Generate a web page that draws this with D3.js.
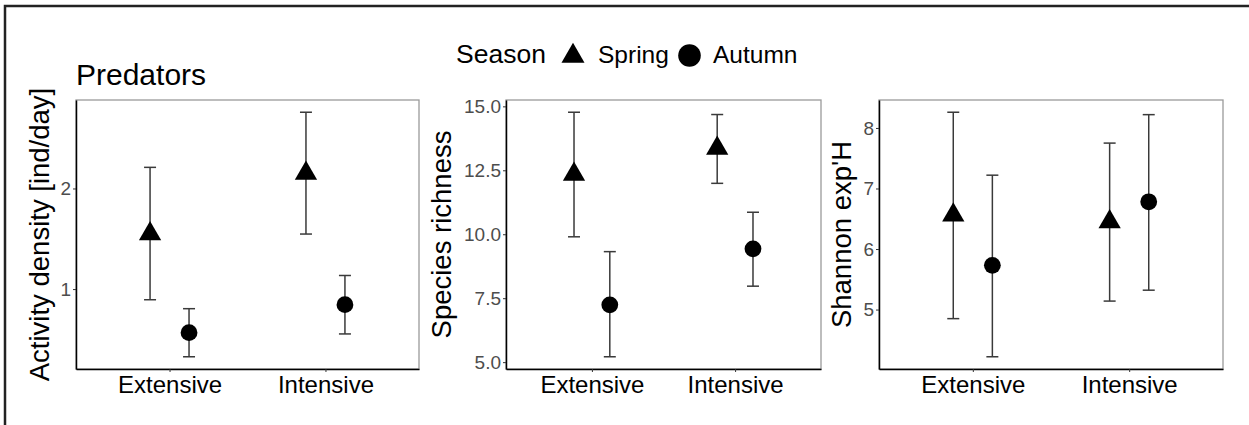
<!DOCTYPE html>
<html>
<head>
<meta charset="utf-8">
<script src="https://cdn.jsdelivr.net/npm/d3@7"></script>
<style>
  body { margin: 0; background: #fff; }
  svg { display: block; font-family: "Liberation Sans", Arial, sans-serif; }
</style>
</head>
<body>
<svg id="chart" width="1249" height="425"></svg>
<script>
// categories
var treatments = ["Extensive", "Intensive"];
var seasons = ["Spring", "Autumn"];
var yTitles = ["Activity density [ind/day]", "Species richness", "Shannon exp'H"];

// activity density (predators)
var actSpring = [1.55, 2.15], actSpringLo = [0.894, 1.547], actSpringHi = [2.21, 2.758];
var actAutumn = [0.567, 0.845], actAutumnLo = [0.327, 0.554], actAutumnHi = [0.805, 1.135];
// species richness
var richSpring = [12.34, 13.36], richSpringLo = [9.9, 11.99], richSpringHi = [14.77, 14.68];
var richAutumn = [7.24, 9.43], richAutumnLo = [5.21, 7.97], richAutumnHi = [9.32, 10.86];
// shannon exp'H
var shanSpring = [6.56, 6.45], shanSpringLo = [4.85, 5.14], shanSpringHi = [8.26, 7.75];
var shanAutumn = [5.73, 6.78], shanAutumnLo = [4.22, 5.32], shanAutumnHi = [7.22, 8.22];

// tick labels
var actTicks = [1, 2];
var richTicks = [5, 7.5, 10, 12.5, 15];
var shanTicks = [5, 6, 7, 8];

var FONT = "'Liberation Sans', Arial, sans-serif";
var svg = d3.select("#chart");

// outer frame (only left & top visible)
svg.append("path")
  .attr("d", "M5,430 L5,6 L1260,6")
  .attr("fill", "none").attr("stroke", "#222").attr("stroke-width", 2.5);

var panels = [
  {x0: 76, x1: 419, fmt: d3.format("d"), ticks: actTicks,
   s: [actSpring, actSpringLo, actSpringHi], a: [actAutumn, actAutumnLo, actAutumnHi], titleX: 49},
  {x0: 506, x1: 821, fmt: d3.format(".1f"), ticks: richTicks,
   s: [richSpring, richSpringLo, richSpringHi], a: [richAutumn, richAutumnLo, richAutumnHi], titleX: 451},
  {x0: 879, x1: 1223, fmt: d3.format("d"), ticks: shanTicks,
   s: [shanSpring, shanSpringLo, shanSpringHi], a: [shanAutumn, shanAutumnLo, shanAutumnHi], titleX: 851}
];
var yTop = 100, yBot = 369;
var dodge = 0.125; // position dodge, in category units

var tri = d3.symbol().type(d3.symbolTriangle).size(215);

panels.forEach(function(p, k) {
  // ggplot-like 5% expansion of the data range
  var lo = d3.min(p.s[1].concat(p.a[1])), hi = d3.max(p.s[2].concat(p.a[2]));
  var pad = (hi - lo) * 0.05;
  var y = d3.scaleLinear().domain([lo - pad, hi + pad]).range([yBot, yTop]);
  var x = d3.scaleLinear().domain([0.4, 2.6]).range([p.x0, p.x1]);
  var g = svg.append("g");

  // panel border
  g.append("rect")
    .attr("x", p.x0).attr("y", yTop).attr("width", p.x1 - p.x0).attr("height", yBot - yTop)
    .attr("fill", "none").attr("stroke", "#9a9a9a").attr("stroke-width", 1.3);

  // y axis
  var ya = g.append("g").attr("transform", "translate(" + p.x0 + ",0)")
    .call(d3.axisLeft(y).tickValues(p.ticks).tickFormat(p.fmt).tickSize(3).tickSizeOuter(0).tickPadding(2));
  ya.attr("font-size", 19).attr("font-family", FONT);
  ya.select(".domain").attr("stroke", "#000").attr("stroke-width", 1.5);
  ya.selectAll(".tick line").attr("stroke", "#333");
  ya.selectAll(".tick text").attr("fill", "#4d4d4d");

  // x axis
  var xa = g.append("g").attr("transform", "translate(0," + yBot + ")")
    .call(d3.axisBottom(x).tickValues([1, 2]).tickFormat(function(d) { return treatments[d - 1]; })
      .tickSize(3).tickSizeOuter(0).tickPadding(4));
  xa.attr("font-size", 24).attr("font-family", FONT);
  xa.select(".domain").attr("stroke", "#000").attr("stroke-width", 1.5);
  xa.selectAll(".tick line").attr("stroke", "#333");
  xa.selectAll(".tick text").attr("fill", "#000");

  // y title
  g.append("text")
    .attr("transform", "translate(" + p.titleX + "," + ((yTop + yBot) / 2) + ") rotate(-90)")
    .attr("text-anchor", "middle").attr("font-size", 27.5).text(yTitles[k]);

  // error bars and points
  [p.s, p.a].forEach(function(ser, si) {
    treatments.forEach(function(t, i) {
      var cx = x(i + 1 + (si === 0 ? -dodge : dodge));
      g.append("line").attr("x1", cx).attr("x2", cx)
        .attr("y1", y(ser[1][i])).attr("y2", y(ser[2][i]))
        .attr("stroke", "#3a3a3a").attr("stroke-width", 1.5);
      [ser[1][i], ser[2][i]].forEach(function(v) {
        g.append("line").attr("x1", cx - 6).attr("x2", cx + 6)
          .attr("y1", y(v)).attr("y2", y(v))
          .attr("stroke", "#3a3a3a").attr("stroke-width", 1.5);
      });
      if (si === 0) {
        g.append("path").attr("d", tri)
          .attr("transform", "translate(" + cx + "," + y(ser[0][i]) + ")").attr("fill", "#000");
      } else {
        g.append("circle").attr("cx", cx).attr("cy", y(ser[0][i])).attr("r", 8.4).attr("fill", "#000");
      }
    });
  });
});

// title
svg.append("text").attr("x", 76).attr("y", 85).attr("font-size", 30).text("Predators");

// legend
var leg = svg.append("g");
leg.append("text").attr("x", 456).attr("y", 63).attr("font-size", 26.5).text("Season");
leg.append("path").attr("d", d3.symbol().type(d3.symbolTriangle).size(230))
  .attr("transform", "translate(573,56)").attr("fill", "#000");
leg.append("text").attr("x", 598).attr("y", 63).attr("font-size", 24.5).text(seasons[0]);
leg.append("circle").attr("cx", 689.5).attr("cy", 55.5).attr("r", 11.3).attr("fill", "#000");
leg.append("text").attr("x", 713).attr("y", 63).attr("font-size", 24.5).text(seasons[1]);
</script>
</body>
</html>
